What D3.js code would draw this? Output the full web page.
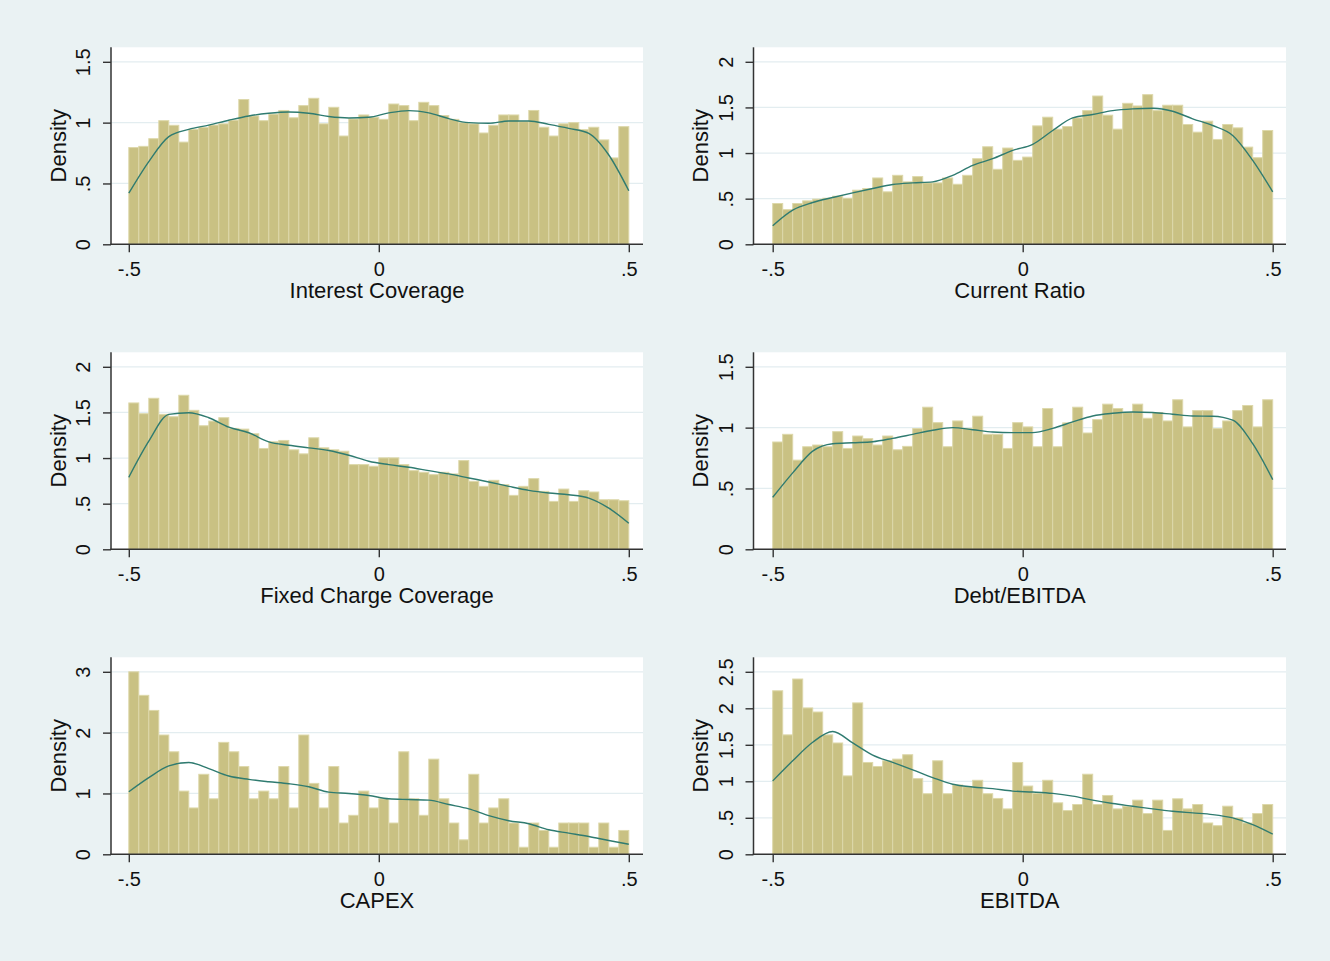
<!DOCTYPE html>
<html>
<head>
<meta charset="utf-8">
<script src="https://cdn.jsdelivr.net/npm/d3@7"></script>
<style>
  html, body { margin: 0; padding: 0; background: #eaf2f3; }
  svg { display: block; font-family: "Liberation Sans", Arial, sans-serif; }
</style>
</head>
<body>
<svg id="chart" width="1330" height="961"></svg>
<script>
// histogram densities, 50 bins of width .02 from -.5 to .5
var interestBins = [0.795,0.805,0.868,1.016,0.978,0.84,0.945,0.96,0.98,0.99,
  1.02,1.19,1.055,1.016,1.07,1.10,1.04,1.14,1.20,0.99,
  1.126,0.89,1.03,1.063,1.044,1.027,1.153,1.14,1.016,1.167,
  1.14,1.058,1.027,1.0,0.99,0.915,0.978,1.063,1.063,1.008,
  1.10,0.962,0.89,0.99,1.0,0.942,0.962,0.858,0.71,0.967];
var currentBins = [0.447,0.38,0.447,0.476,0.495,0.505,0.527,0.505,0.593,0.611,
  0.727,0.575,0.756,0.684,0.742,0.673,0.673,0.727,0.658,0.756,
  0.938,1.069,0.822,1.055,0.92,0.956,1.298,1.393,1.262,1.291,
  1.385,1.465,1.625,1.415,1.262,1.545,1.516,1.64,1.465,1.524,
  1.524,1.313,1.229,1.349,1.149,1.313,1.276,1.065,0.949,1.247];
var fixedBins = [1.604,1.486,1.655,1.479,1.453,1.688,1.523,1.354,1.405,1.442,
  1.325,1.317,1.266,1.105,1.178,1.193,1.09,1.046,1.222,1.112,
  1.09,1.075,0.928,0.928,0.91,1.002,1.002,0.928,0.862,0.844,
  0.818,0.844,0.826,0.972,0.745,0.69,0.756,0.708,0.591,0.69,
  0.774,0.635,0.525,0.66,0.525,0.642,0.628,0.543,0.543,0.532];
var debtBins = [0.882,0.945,0.733,0.843,0.857,0.843,0.967,0.829,0.931,0.909,
  0.857,0.931,0.818,0.846,0.992,1.168,1.041,0.843,1.055,0.994,
  1.094,0.945,0.945,0.829,1.041,1.006,0.843,1.157,0.843,1.039,
  1.168,0.956,1.066,1.193,1.157,1.124,1.193,1.077,1.124,1.055,
  1.229,1.006,1.14,1.14,0.992,1.055,1.14,1.182,1.006,1.229];
var capexBins = [3.0,2.613,2.365,1.961,1.685,1.039,0.762,1.315,0.912,1.84,
  1.685,1.442,0.912,1.039,0.912,1.442,0.762,1.961,1.166,0.762,
  1.442,0.514,0.641,1.039,0.762,0.912,0.514,1.685,0.912,0.641,
  1.564,0.912,0.514,0.238,1.315,0.514,0.762,0.912,0.514,0.116,
  0.514,0.392,0.116,0.514,0.514,0.514,0.116,0.514,0.116,0.392];
var ebitdaBins = [2.24,1.636,2.401,2.005,1.949,1.636,1.525,1.074,2.074,1.258,
  1.203,1.281,1.304,1.364,1.037,0.83,1.281,0.83,0.949,0.926,
  1.014,0.83,0.765,0.622,1.258,0.935,0.834,1.014,0.705,0.599,
  0.682,1.097,0.682,0.806,0.622,0.659,0.742,0.558,0.742,0.327,
  0.76,0.622,0.682,0.429,0.392,0.659,0.498,0.429,0.558,0.682];

// kernel density curves, 26 points every .04 from -.5 to .5
var interestKde = [0.42,0.68,0.885,0.945,0.98,1.02,1.055,1.077,1.088,1.077,1.05,1.038,1.044,
  1.08,1.099,1.08,1.033,1.0,0.995,1.014,1.014,0.986,0.953,0.912,0.734,0.44];
var currentKde = [0.204,0.375,0.458,0.513,0.564,0.611,0.655,0.673,0.684,0.756,0.865,0.938,1.029,
  1.095,1.247,1.385,1.422,1.465,1.484,1.491,1.458,1.375,1.302,1.193,0.92,0.575];
var fixedKde = [0.789,1.185,1.479,1.497,1.442,1.339,1.277,1.178,1.141,1.112,1.083,1.031,0.965,
  0.928,0.899,0.862,0.826,0.782,0.738,0.69,0.646,0.617,0.598,0.561,0.451,0.286];
var debtKde = [0.427,0.628,0.807,0.868,0.876,0.884,0.912,0.945,0.978,1.0,0.983,0.964,0.959,
  0.959,0.994,1.047,1.096,1.118,1.129,1.124,1.11,1.096,1.094,1.061,0.868,0.573];
var capexKde = [1.028,1.26,1.453,1.508,1.409,1.287,1.232,1.193,1.16,1.11,1.022,1.0,0.967,
  0.912,0.9,0.89,0.818,0.746,0.635,0.552,0.503,0.403,0.348,0.293,0.227,0.166];
var ebitdaKde = [1.005,1.281,1.535,1.682,1.525,1.359,1.258,1.157,1.051,0.959,0.922,0.899,0.866,
  0.853,0.834,0.797,0.742,0.696,0.659,0.622,0.59,0.567,0.544,0.498,0.406,0.276];

var titles = ["Interest Coverage", "Current Ratio", "Fixed Charge Coverage", "Debt/EBITDA", "CAPEX", "EBITDA"];
var yTicks = [[0,0.5,1,1.5],[0,0.5,1,1.5,2],[0,0.5,1,1.5,2],[0,0.5,1,1.5],[0,1,2,3],[0,0.5,1,1.5,2,2.5]];
var xTicks = [-0.5, 0, 0.5];

var allBins = [interestBins, currentBins, fixedBins, debtBins, capexBins, ebitdaBins];
var allKde = [interestKde, currentKde, fixedKde, debtKde, capexKde, ebitdaKde];

// layout
var colAxisX = [111, 753.5];
var colRight = [643, 1286];
var colX0 = [128.8, 772.7];
var rowBase = [244.3, 549.3, 854.3];
var tickH = 182.5, plotH = 197;

var svg = d3.select("#chart");
svg.append("rect").attr("width", 1330).attr("height", 961).attr("fill", "#eaf2f3");

function fmt(v){
  if(v == 0) return "0";
  return String(v).replace(/^(-?)0\./, "$1.");
}

function drawPanel(p){
  var col = p % 2, row = Math.floor(p / 2);
  var base = rowBase[row], yTop = base - plotH;
  var ax = colAxisX[col], right = colRight[col];
  var bins = allBins[p], kde = allKde[p], yt = yTicks[p];

  var x = d3.scaleLinear().domain([-0.5, 0.5]).range([colX0[col], colX0[col] + 500]);
  var y = d3.scaleLinear().domain([0, yt[yt.length-1]]).range([base, base - tickH]);

  var g = svg.append("g");
  // plot region
  g.append("rect").attr("x", ax).attr("y", yTop).attr("width", right - ax).attr("height", base - yTop)
    .attr("fill", "#ffffff");
  // grid
  g.selectAll(".grid").data(yt.slice(1)).enter().append("line")
    .attr("x1", ax).attr("x2", right)
    .attr("y1", function(d){ return y(d); }).attr("y2", function(d){ return y(d); })
    .attr("stroke", "#e3edf0").attr("stroke-width", 1.2);
  // bars
  g.selectAll(".bar").data(bins).enter().append("rect")
    .attr("x", function(d,i){ return x(-0.5 + i*0.02); })
    .attr("width", function(d,i){ return x(-0.5 + (i+1)*0.02) - x(-0.5 + i*0.02); })
    .attr("y", function(d){ return y(d); })
    .attr("height", function(d){ return base - y(d); })
    .attr("fill", "#c9c183").attr("stroke", "#ddd8aa").attr("stroke-width", 1);
  // density line
  var line = d3.line()
    .x(function(d,i){ return x(-0.5 + i*0.04); })
    .y(function(d){ return y(d); })
    .curve(d3.curveMonotoneX);
  g.append("path").datum(kde).attr("d", line)
    .attr("fill", "none").attr("stroke", "#2f7b70").attr("stroke-width", 1.4);

  // y axis
  var yAxis = g.append("g").attr("transform", "translate(" + ax + ",0)")
    .call(d3.axisLeft(y).tickValues(yt).tickSize(8).tickFormat(fmt));
  yAxis.select(".domain").remove();
  yAxis.selectAll("line").attr("stroke", "#333").attr("stroke-width", 1.4);
  yAxis.selectAll("text")
    .attr("x", 0).attr("y", 0).attr("dy", "0.36em")
    .attr("transform", "translate(-28,0) rotate(-90)")
    .attr("text-anchor", "middle")
    .style("font-size", "20px").attr("fill", "#111");
  g.append("line").attr("x1", ax).attr("x2", ax).attr("y1", yTop).attr("y2", base + 0.7)
    .attr("stroke", "#333").attr("stroke-width", 1.5);

  // x axis
  var xAxis = g.append("g").attr("transform", "translate(0," + base + ")")
    .call(d3.axisBottom(x).tickValues(xTicks).tickSize(8).tickFormat(fmt));
  xAxis.select(".domain").remove();
  xAxis.selectAll("line").attr("stroke", "#333").attr("stroke-width", 1.4);
  xAxis.selectAll("text").attr("y", 32).attr("dy", 0)
    .style("font-size", "20px").attr("fill", "#111");
  g.append("line").attr("x1", ax - 0.7).attr("x2", right).attr("y1", base).attr("y2", base)
    .attr("stroke", "#333").attr("stroke-width", 1.5);

  // titles
  g.append("text").attr("x", (ax + right) / 2).attr("y", base + 54)
    .attr("text-anchor", "middle").style("font-size", "22px").attr("fill", "#111")
    .text(titles[p]);
  g.append("text")
    .attr("transform", "translate(" + (ax - 53) + "," + ((yTop + base) / 2) + ") rotate(-90)")
    .attr("dy", "0.36em").attr("text-anchor", "middle")
    .style("font-size", "22px").attr("fill", "#111")
    .text("Density");
}

for(var p = 0; p < 6; p++) drawPanel(p);
</script>
</body>
</html>
